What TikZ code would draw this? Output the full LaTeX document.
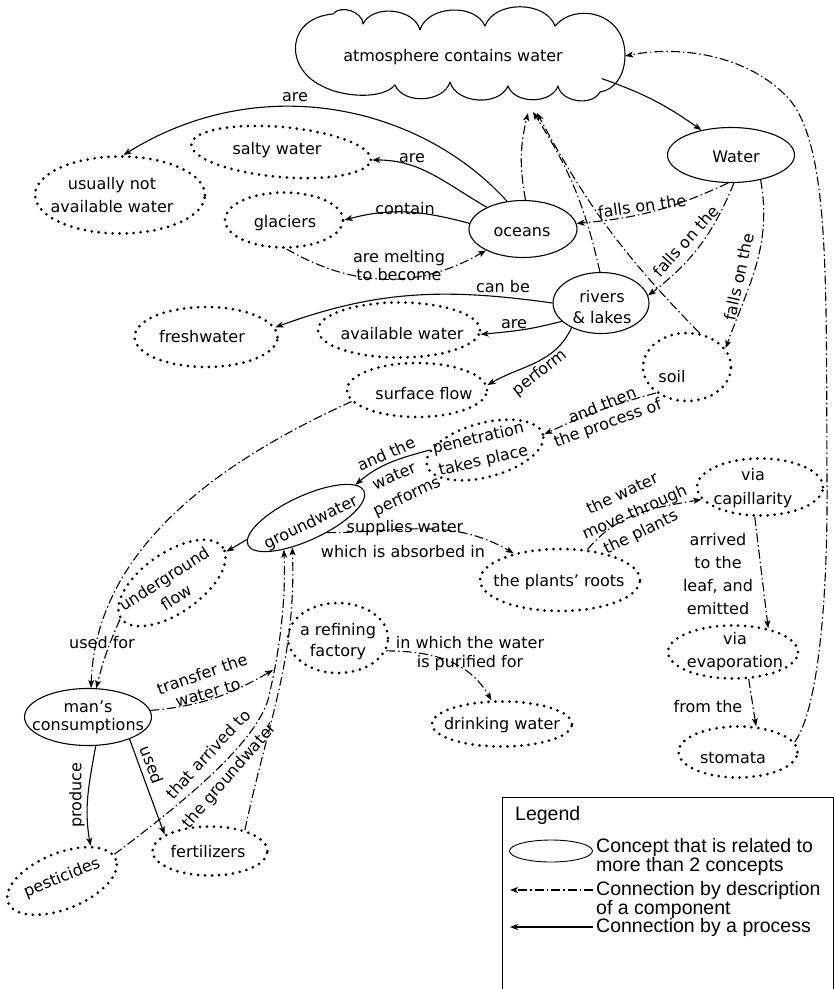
\documentclass[tikz,border=0pt]{standalone}
\usepackage{fontspec}
\setmainfont{DejaVu Sans}
\newfontfamily\legfont{Liberation Sans}
\usetikzlibrary{shapes.geometric,arrows.meta}
\newcommand\hf[1]{\fontsize{16}{#1}\selectfont}
\begin{document}
\begin{tikzpicture}[x=1pt,y=-1pt,
  hand/.style={font=\hf{21}, align=center, inner sep=0pt},
  main/.style={ellipse, draw, line width=1.1pt, inner sep=0pt},
  dotc/.style={ellipse, draw, line width=3pt, line cap=round, dash pattern=on 0pt off 7pt, inner sep=0pt},
  arr/.style={-{Stealth[length=8pt,width=6pt,inset=2pt]}, line width=1.1pt},
  proc/.style={arr},
  desc/.style={arr, dash pattern=on 9pt off 3pt on 1.5pt off 3pt},
  legt/.style={font=\legfont\fontsize{19.5}{19}\selectfont, align=left, inner sep=0pt, anchor=west}
]
\useasboundingbox (0,0) rectangle (835,989);
\fill[white] (0,0) rectangle (835,989);

% ---------- cloud ----------
\node[ellipse, minimum width=332pt, minimum height=88pt, inner sep=0pt] (atm) at (459,56) {};
\draw[line width=1.1pt, line join=round]
  (333,14) to[bend left=70] (363,24) to[bend left=70] (420,30)
  to[bend left=70] (485,26) to[bend left=70] (555,26)
  .. controls (575,2) and (625,12) .. (625,55)
  .. controls (625,76) and (614,90) .. (600,92)
  to[bend left=70] (558,86) to[bend left=70] (508,86)
  to[bend left=70] (450,82) to[bend left=70] (395,85)
  .. controls (382,100) and (342,97) .. (322,86)
  .. controls (284,68) and (286,18) .. cycle;

% ---------- concept shapes ----------
\node[main, minimum width=127pt, minimum height=55pt] (water) at (731,155) {};
\node[main, minimum width=108pt, minimum height=57pt] (oceans) at (523,229) {};
\node[main, minimum width=96pt, minimum height=61pt] (rivers) at (601,303) {};
\node[main, minimum width=128pt, minimum height=44pt, rotate=25] (gw) at (306,518) {};
\node[main, minimum width=127pt, minimum height=57pt] (mans) at (88,717) {};

\node[dotc, minimum width=170pt, minimum height=77pt] (notavail) at (120,195) {};
\node[dotc, minimum width=180pt, minimum height=50pt, rotate=-5] (salty) at (281,152) {};
\node[dotc, minimum width=118pt, minimum height=55pt] (glaciers) at (284,220) {};
\node[dotc, minimum width=143pt, minimum height=60pt] (fresh) at (206,337) {};
\node[dotc, minimum width=162pt, minimum height=55pt] (avail) at (399,330) {};
\node[dotc, minimum width=140pt, minimum height=54pt] (surface) at (417,390) {};
\node[dotc, minimum width=88pt, minimum height=68pt] (soil) at (687,367) {};
\node[dotc, minimum width=120pt, minimum height=54pt, rotate=15] (pen) at (485,450) {};
\node[dotc, minimum width=124pt, minimum height=60pt, rotate=35] (ug) at (172,583) {};
\node[dotc, minimum width=160pt, minimum height=62pt] (roots) at (560,580) {};
\node[dotc, minimum width=126pt, minimum height=57pt] (capi) at (760,487) {};
\node[dotc, minimum width=130pt, minimum height=53pt] (evap) at (733,652) {};
\node[dotc, minimum width=119pt, minimum height=51pt] (stomata) at (738,752) {};
\node[dotc, minimum width=140pt, minimum height=45pt] (drink) at (502,724) {};
\node[dotc, minimum width=100pt, minimum height=70pt] (refin) at (338,638) {};
\node[dotc, minimum width=116pt, minimum height=56pt, rotate=22] (pest) at (62,881) {};
\node[dotc, minimum width=115pt, minimum height=49pt] (fert) at (210,851) {};

% ---------- concept texts ----------
\node[hand] (atm-t) at (453,57) {atmosphere contains water};
\node[hand] (water-t) at (736,157) {Water};
\node[hand] (oceans-t) at (522,232) {oceans};
\node[hand] (rivers-t) at (602,307) {rivers\\\& lakes};
\node[hand, rotate=26] (gw-t) at (311,523) {groundwater};
\node[hand, font=\hf{18}] (mans-t) at (88,717) {man’s\\consumptions};
\node[hand, font=\hf{23.5}] (notavail-t) at (112,195) {usually not\\available water};
\node[hand] (salty-t) at (277,150) {salty water};
\node[hand] (glaciers-t) at (285,223) {glaciers};
\node[hand] (fresh-t) at (202,337) {freshwater};
\node[hand] (avail-t) at (402,334) {available water};
\node[hand] (surface-t) at (424,394) {surface flow};
\node[hand] (soil-t) at (672,377) {soil};
\node[hand, font=\hf{23}, rotate=13] (pen-t) at (481,450) {penetration\\takes place};
\node[hand, font=\hf{22}, rotate=33] (ug-t) at (170,588) {underground\\flow};
\node[hand] (roots-t) at (559,582) {the plants’ roots};
\node[hand, font=\hf{24}] (capi-t) at (753,488) {via\\capillarity};
\node[hand, font=\hf{23}] (evap-t) at (735,652) {via\\evaporation};
\node[hand] (stomata-t) at (733,758) {stomata};
\node[hand] (drink-t) at (502,725) {drinking water};
\node[hand] (refin-t) at (338,642) {a refining\\factory};
\node[hand, rotate=22] (pest-t) at (62,878) {pesticides};
\node[hand] (fert-t) at (208,852) {fertilizers};

% ---------- helper coordinates ----------
\coordinate (hub1) at (528,113);
\coordinate (hub2) at (533,112);
\coordinate (hub3) at (537,113);
\coordinate (trend) at (273,670);

% ---------- connectors ----------
\draw[proc] (atm.-9) to[bend left=8] (water.140);
\draw[desc] (water.-96) to[bend left=10] (oceans.6);
\draw[desc] (water.-84) to[bend left=15] (rivers.9);
\draw[desc] (water.-40) to[out=-80,in=70] (soil.26);
\draw[desc] (oceans.85) to[bend left=12] (hub1);
\draw[desc] (rivers.92) to[bend right=10] (hub2);
\draw[desc] (soil.70) to[bend left=8] (hub3);
\draw[desc] (stomata.10) .. controls (815,715) and (828,620) .. (827,480)
   .. controls (826,280) and (830,150) .. (790,100)
   .. controls (750,55) and (680,45) .. (atm.east);
\draw[proc] (oceans.120) .. controls (420,105) and (260,70) .. (notavail.85);
\draw[proc] (oceans.149) to[out=150,in=0] (salty.east);
\draw[proc] (oceans.174) to[out=165,in=15] (glaciers.east);
\draw[desc] (glaciers.-85) to[out=-30,in=-150] (oceans.-150);
\draw[proc] (rivers.180) to[out=172,in=20] (fresh.8);
\draw[proc] (rivers.205) to[out=195,in=5] (avail.-3);
\draw[proc] (rivers.220) to[out=-115,in=30] (surface.4);
\draw[desc] (soil.220) to[out=195,in=25] (pen.east);
\draw[proc] (pen.165) to[out=195,in=40] (gw.9);
\draw[desc] (gw.-60) to[out=0,in=150] (roots.150);
\draw[desc] (roots.48) to[out=50,in=190] (capi.192);
\draw[desc] (capi.-100) -- (evap.34);
\draw[desc] (evap.-60) -- (stomata.55);
\draw[desc] (surface.190) .. controls (200,470) and (95,560) .. (mans.84);
\draw[desc] (ug.180) to[bend right=5] (mans.74);
\draw[proc] (gw.175) -- (ug.-5);
\draw[desc] (mans.6) to[out=5,in=210] (trend);
\draw[proc] (mans.-75) to[out=-100,in=100] (pest.29);
\draw[proc] (mans.-28) -- (fert.160);
\draw[desc] (pest.5) .. controls (200,790) and (255,740) .. (268,700)
   .. controls (280,650) and (286,600) .. (gw.210);
\draw[desc] (fert.31) to[out=78,in=-88] (gw.220);
\draw[desc] (refin.-15) to[out=0,in=120] (drink.114);

% ---------- connector labels ----------
\node[hand] (l-are1) at (295,97) {are};
\node[hand] (l-are2) at (412,158) {are};
\node[hand] (l-contain) at (405,209) {contain};
\node[hand, font=\hf{18}] (l-melt) at (399,266) {are melting\\to become};
\node[hand, rotate=8] (l-fall1) at (642,206) {falls on the};
\node[hand, rotate=48] (l-fall2) at (686,241) {falls on the};
\node[hand, rotate=78] (l-fall3) at (739,277) {falls on the};
\node[hand] (l-canbe) at (503,287) {can be};
\node[hand] (l-are3) at (514,324) {are};
\node[hand, rotate=38] (l-perform) at (540,373) {perform};
\node[hand, rotate=22] (l-andthen) at (602,405) {and then};
\node[hand, rotate=20] (l-process) at (608,424) {the process of};
\node[hand, rotate=24] (l-andthe) at (386,454) {and the};
\node[hand, rotate=24] (l-water) at (394,476) {water};
\node[hand, rotate=25] (l-performs) at (407,497) {performs};
\node[hand] (l-supplies) at (405,528) {supplies water};
\node[hand] (l-which) at (403,552) {which is absorbed in};
\node[hand, rotate=25] (l-thewater) at (622,493) {the water};
\node[hand, rotate=24] (l-move) at (635,513) {move through};
\node[hand, rotate=26] (l-plants) at (641,533) {the plants};
\node[hand, font=\hf{22.7}] (l-arrived) at (718,574) {arrived\\to the\\leaf, and\\emitted};
\node[hand] (l-from) at (708,707) {from the};
\node[hand] (l-usedfor) at (102,643) {used for};
\node[hand, rotate=19] (l-transfer) at (202,674) {transfer the};
\node[hand, rotate=16] (l-waterto) at (208,693) {water to};
\node[hand] (l-inwhich) at (470,643) {in which the water};
\node[hand] (l-purified) at (470,663) {is purified for};
\node[hand, rotate=90] (l-produce) at (77,795) {produce};
\node[hand, rotate=-70] (l-used) at (152,765) {used};
\node[hand, rotate=47] (l-thatarr) at (208,754) {that arrived to};
\node[hand, rotate=49] (l-thegw) at (230,776) {the groundwater};

% ---------- legend ----------
\draw[line width=1pt] (502,995) -- (502,797) -- (833,797) -- (833,995);
\node[legt] (lg) at (515,815) {Legend};
\node[ellipse, draw, line width=0.9pt, minimum width=83pt, minimum height=22pt, inner sep=0pt] (lge) at (551,851) {};
\node[legt] (lt1) at (596,857) {Concept that is related to\\more than 2 concepts};
\coordinate (la1s) at (593,890);
\coordinate (la1e) at (510,890);
\draw[desc] (la1s) -- (la1e);
\node[legt] (lt2) at (596,900) {Connection by description\\of a component};
\coordinate (la2s) at (593,927);
\coordinate (la2e) at (510,927);
\draw[proc] (la2s) -- (la2e);
\node[legt] (lt3) at (596,927) {Connection by a process};
\end{tikzpicture}
\end{document}
